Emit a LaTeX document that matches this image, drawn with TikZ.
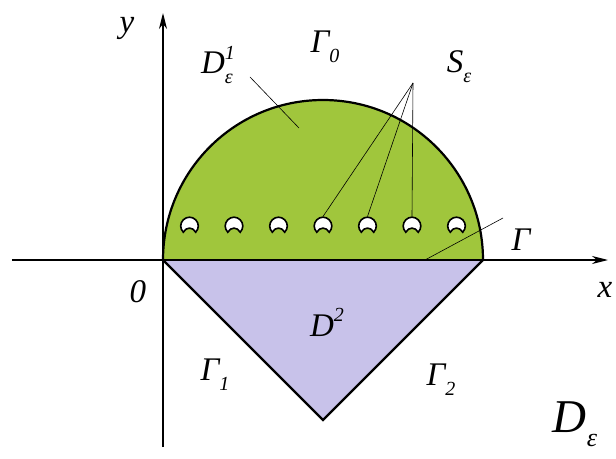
\documentclass[tikz,border=0pt]{standalone}
\usepackage{fontspec}
\setmainfont{Liberation Serif}
\usetikzlibrary{arrows.meta,calc}
\definecolor{leafgreen}{RGB}{160,198,60}
\definecolor{lilac}{RGB}{200,194,234}
\tikzset{
  axis/.style={line width=1.4pt,-{Stealth[length=16pt,width=8pt,inset=5pt]}},
  rim/.style={line width=2.2pt},
  leader/.style={line width=0.6pt},
  lbl/.style={font=\fontsize{33}{35}\selectfont\itshape,inner sep=0pt},
}
\newcommand{\lowsub}[1]{\raisebox{-0.3em}{\fontsize{20}{21}\selectfont #1}}
\newcommand{\highsup}[1]{\raisebox{0.45em}{\fontsize{20}{21}\selectfont #1}}
\newcommand{\notchhole}[1]{%
  \draw[line width=1.6pt,fill=white] (#1) ++(-45:8.8) arc(-45:225:8.8)
    .. controls ++(3,5.5) and ++(-3,5.5) .. cycle;}
\begin{document}
\begin{tikzpicture}[x=1pt,y=1pt]
  \useasboundingbox (-163,-198) rectangle (453,260);

  % regions
  \fill[leafgreen] (0,0) arc(180:0:160) -- cycle;
  \fill[lilac] (0,0) -- (160,-160) -- (320,0) -- cycle;
  \draw[rim] (0,0) arc(180:0:160);
  \draw[rim] (0,0) -- (160,-160) -- (320,0);
  \draw[rim] (0,0) -- (320,0);

  % holes
  \foreach \i in {-3,...,3}{
    \coordinate (h\i) at (160+44.5*\i,34);
    \notchhole{h\i}
  }

  % axes
  \coordinate (xl) at (-151,0);
  \coordinate (xr) at (445,0);
  \coordinate (yb) at (0,-187);
  \coordinate (yt) at (0,247);
  \draw[axis] (xl) -- (xr);
  \draw[axis] (yb) -- (yt);

  % labels
  \node[lbl] (xlab) at (442,-30) {x};
  \node[lbl] (ylab) at (-36,232) {y};
  \node[lbl] (zero) at (-25,-32) {0};
  \node[lbl] (D1) at (54,195) {D\rlap{\highsup{1}}\lowsub{ε}};
  \node[lbl] (G0) at (162,213) {Γ\lowsub{0}};
  \node[lbl] (S) at (296,193) {S\lowsub{ε}};
  \node[lbl] (G) at (358,20) {Γ};
  \node[lbl] (D2) at (164,-62) {D\highsup{2}};
  \node[lbl] (G1) at (52,-115) {Γ\lowsub{1}};
  \node[lbl] (G2) at (278,-120) {Γ\lowsub{2}};
  \node[lbl,font=\fontsize{47}{49}\selectfont\itshape] (De) at (412,-164)
    {D\lowsub{\fontsize{26}{28}\selectfont ε}};

  % leaders
  \coordinate (sjoin) at (250,177);
  \coordinate (d1out) at (87,183);
  \coordinate (d1in) at (136,132);
  \coordinate (gout) at (340,42);
  \coordinate (gin) at (262,0);
  \draw[leader] (d1out) -- (d1in);
  \foreach \i in {0,1,2}
    \draw[leader] (sjoin) -- ($(h\i)+(0,9.5)$);
  \draw[leader] (gout) -- (gin);
\end{tikzpicture}
\end{document}
